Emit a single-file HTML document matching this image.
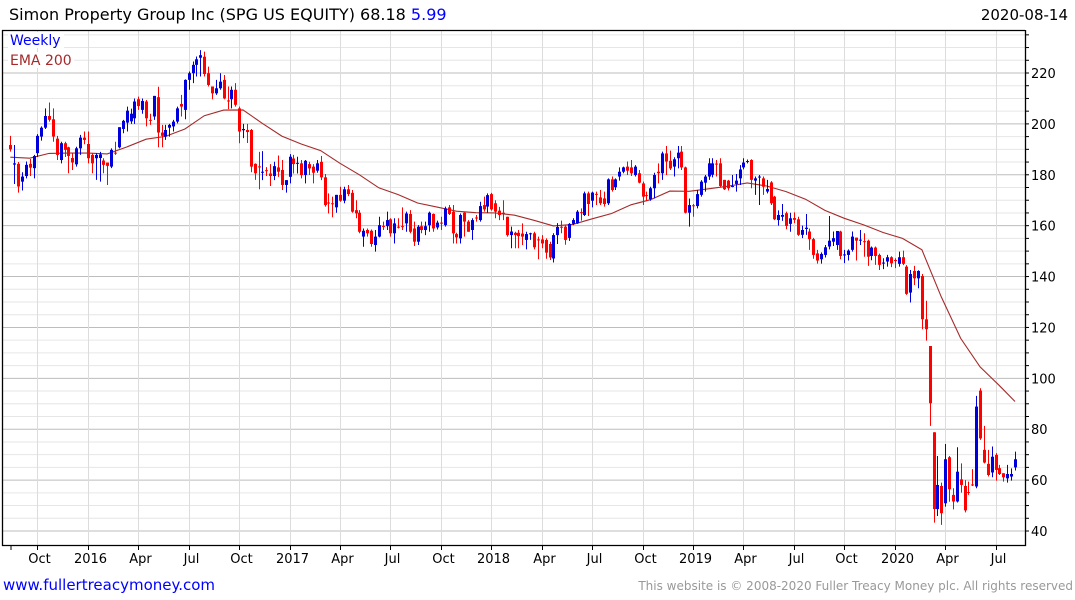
<!DOCTYPE html>
<html><head><meta charset="utf-8"><style>
body{margin:0;background:#fff;width:1075px;height:600px;overflow:hidden}
svg{display:block}
text{font-family:"DejaVu Sans","Liberation Sans",sans-serif}
</style></head><body>
<svg id="chart" width="1075" height="600" viewBox="0 0 1075 600" xmlns="http://www.w3.org/2000/svg">
<rect x="0" y="0" width="1075" height="600" fill="#fff"/>
<g id="grid"></g>
<g id="ema"></g>
<g id="candles"></g>
<g id="axes"></g>
<text x="9" y="20" font-size="16" fill="#000">Simon Property Group Inc (SPG US EQUITY) 68.18 <tspan fill="#0000ff">5.99</tspan></text>
<text x="1068" y="20" font-size="15" fill="#000" text-anchor="end">2020-08-14</text>
<rect x="8" y="32" width="56" height="16" fill="#fff"/>
<text x="10" y="45" font-size="14" fill="#0000ff">Weekly</text>
<rect x="8" y="52" width="66" height="16" fill="#fff"/>
<text x="10" y="65" font-size="14" fill="#a52a2a">EMA 200</text>
<text x="3" y="590" font-size="15" fill="#0000ff">www.fullertreacymoney.com</text>
<text x="1073" y="590" font-size="12" fill="#999" text-anchor="end">This website is © 2008-2020 Fuller Treacy Money plc. All rights reserved</text>
</svg>
<script>
const opens=[191.7,184,184.3,177.3,179.5,184.3,182.6,188.5,195,198.5,203.1,201.8,194.2,185.8,192.4,190.8,186.6,184.1,190.4,194.6,192.1,187.8,186.5,186.6,185.6,184.8,183.2,188.7,190.8,198,200.5,201,202.2,209.7,205.5,208.8,201.6,202.9,210.5,196.6,195,198.5,199,200.9,207.8,205.5,217.3,219.9,223.2,226,226.4,219.9,214.7,212,214,217.3,209.2,209.7,213.4,206.1,197.5,197.6,197.6,184.3,183.3,181,181.8,180.5,179.5,182.9,181.9,176,179.2,186.4,184.5,184.5,179.9,184.2,183.2,181.6,185.1,179,169.1,168.8,167.2,172.1,169.8,174.3,172.9,166.1,165.1,155.7,158.3,158,152.4,155.7,159.9,159.8,162.5,157,159.6,159.8,160.9,164.6,158.9,153.7,159.8,158.3,160.2,164.6,159.3,161.2,160.2,167.2,165.5,156.7,155,165.1,161.6,158.3,163.2,162.2,168.1,167.5,172.4,168.8,165.9,165.1,163.5,156.3,157.2,157.2,156.9,154.4,156.8,157,154.6,154.6,154.4,152.8,147.1,156.3,159.6,159.6,155.2,160.7,160.9,165.3,164.2,172.7,169.8,172.5,171.1,170.7,168.8,178.2,175.1,179.3,181.2,183.2,182.9,179.9,180.6,176.6,172,170.4,174.7,181.2,180.6,188.4,185.5,183.2,186.5,189.1,182.9,165.1,168,167.7,172.1,176.9,179.3,180,184.4,184.5,178,177.7,175.4,176.4,178.6,182.9,185,185.8,177.7,179,178.6,173.4,177,171.4,162.2,163.5,164.9,160.7,163,162.5,156.4,158.7,157.7,154.7,149.1,146.8,148.5,151.8,153.7,152.4,157.7,148.4,148.5,150.5,155.3,154.2,153.9,154.1,148.1,151.4,148.5,145.1,145.9,147.6,146.5,145,147.6,143.9,133.7,142.2,139.3,140.2,123.2,112.7,78.8,48.6,57.7,50.9,69,54.2,51.6,60.3,57.7,55.3,58.3,57.5,95.2,71.9,66.4,63,69.9,64.7,62.7,60.7,61.4,65];
const highs=[195.3,191.7,185,181,185.2,186.2,187.8,196,199,206.1,208.4,206.1,195.3,193,193,191,188.5,191,195.7,197,197,188.5,188.5,189,186.5,184.8,190.4,193,198.7,201.6,206.8,206,210,210.7,210,209.4,204,211,214.6,199.6,199.6,200,201.6,206.8,211.4,217.5,220.6,224.5,226.5,229,228.4,222.5,214.7,217.3,219.9,219.2,214.7,214.7,216,206.8,200,200,198,184.5,189,189.3,183,184.2,185.1,187.6,185.8,177.9,188.1,187.8,187.1,185.8,185.8,185.1,184.2,185.8,187.4,180.3,172.7,171.4,172.1,175.3,175.3,176,174,170,166.1,158.9,158.9,158.5,158.3,163.5,161.6,165.5,162.9,162.9,162.9,167.2,165.5,166.1,161.6,160.2,161.6,161.6,165.5,164.8,162,163.5,167.5,168.1,168.1,157.2,164.8,165.5,162.2,162.9,164.2,169.4,171.4,172.7,172.9,170,167.4,170,163.5,159.6,157.6,158.3,160.9,157.6,157.2,157.6,155.7,156.3,155,153.7,157,161,162,160.2,161,162.9,166.1,166.8,173.4,173.4,173.4,173.4,174,173.4,178.6,179.3,178.6,182.9,183.2,185.2,185.8,183.8,181.9,177.3,173.4,175.3,180.8,184.5,189.1,191.3,189.5,186.9,191.3,191.3,183.2,170.7,168.5,174,177.9,179.9,186.5,186.5,185.8,186.5,178,178,179.9,180.3,183.8,186.5,186,186.1,179.3,179.9,179.3,178,177.5,171.7,166,168.5,165.5,165.1,165.2,163.5,160,164.6,158.9,155.2,150.5,149.5,152.4,163.8,157.7,157.9,158,150.5,150.7,157.7,155.3,158.3,157,154.5,151.8,151.8,149,147.2,148.5,148,147.2,149.8,150.2,144.5,142.6,144.2,142.5,141,130.5,112.7,78.8,69.5,59,74.2,69.5,56.8,72.9,66.6,60,59.4,64.3,93.1,96.1,81.3,71.9,73.2,70.6,66,62.7,66,64.6,71.2];
const lows=[189.1,176.4,173,173.8,178.6,179.5,178.6,187,193.4,198,200.9,193,185.8,184.5,187,180.6,181.9,183.2,187.8,192,184.5,180.6,178,177.3,180.6,176,182.6,187.8,190.4,196.3,197,200,200,205.5,204,199,199.6,201.6,190.8,190.8,193.7,195,197,200.2,202.9,201.8,213.4,216,218.6,218.6,218.6,214.7,209.7,211.4,213.4,209.7,205.8,206.1,206.8,192.4,194.4,192.5,181,178,174.3,177.9,179.5,175.6,177.9,179.2,174,173,176.6,180.5,180.5,178.6,176.6,179.9,176.6,180.8,177.9,167.5,164.8,163.3,165.1,169.4,168.8,171.6,165.1,162.9,157,151.7,155.7,151.7,149.8,155.4,158.3,158.3,155.7,153,158.9,158.3,157.6,157,152,152.4,157,156.3,157.6,157.6,158.5,158.3,159.6,164.2,153,153,153,155.7,157.6,154.4,161.6,161.6,165.5,165.1,165.9,162.9,162.2,162.2,155.7,151.1,151.1,151.1,152.4,150.7,154.4,150.7,146.8,151.1,147,146.5,145.5,152.8,157,152.5,154,160.2,160.7,162,163.8,163.8,167.2,168.1,168.1,167.5,168.1,173.4,174,177.7,180.6,179.9,179.5,179.3,176.6,168.1,169.8,169.8,170.7,176.6,178,179.9,181.9,179.3,182.5,181.9,164.8,159.6,163.5,166.8,171.4,173.4,178,179,179.3,175.1,174,173.8,175.1,173.4,176,182.1,184.5,174.7,172.1,168.1,172.1,172.7,168.1,162.2,160,161.9,158.6,157.6,161,156,155.1,156.4,150.5,147,145.1,145.1,147.5,150.7,152,150.5,146.8,145.3,146.3,149.8,146.3,152.4,147.8,144.2,146.4,144.6,142.6,142.9,143.9,143.7,143.3,143.9,144.5,132.8,129.8,136.7,135.4,119.3,114.8,81.3,43.3,45.9,42.4,49.6,51.5,48.5,51.2,55.1,47.3,54.2,57.7,56.8,75.8,66.6,61.4,61.1,59.8,62,59.4,59,59.8,63.8];
const closes=[190,184.5,175.4,179.3,183.9,182.8,187.4,195.3,198.5,203.1,201.6,195,187.8,192.4,189.8,187.4,184.8,190.4,194.6,193.7,186.5,184.5,187.8,188,183.9,183.5,189.8,188.5,198.7,201.2,205.2,204,208.8,207,209,202.2,201.3,211,196.6,195.3,197.6,199.6,200.9,206.1,206.8,217.3,219.9,223.2,225.4,227,219.6,215.3,212,214,216.6,210,208.9,213.4,207.5,197,198,196.8,183.2,180.6,183,181.2,181.5,179.5,183.4,181.2,176,177.9,187.1,184.2,184.7,179.9,185.5,182.5,180.8,184.5,179,168.1,168.8,168.5,172.1,169.8,174.3,172.4,165.5,164.8,157.6,158,157,152.8,155.7,160.2,159.6,162.2,157,160.9,159.3,159.5,164.8,157.6,153.7,159.6,158.3,159.8,165.1,158.9,161.2,160.9,166.8,164.6,157,155.4,164.2,161.6,157.6,162.2,162.9,167.7,166.4,172,166.4,165.5,164.2,164.8,156.3,157.7,156.3,155.9,155.7,156.7,157,151.5,154.4,153,149.4,147.5,156.3,159.5,159.2,154.4,160.7,162.2,165.5,164.9,172.7,168.5,173,172.2,168.8,168.5,178.2,174,178.2,181.2,182.9,181.6,180.6,183.2,176.9,171.4,171.7,174.7,179.9,180.6,188.4,185.2,182.5,186.1,188.7,182.9,165.1,168.1,167.7,172.4,177.3,179.3,184.5,184.5,184,175.6,174.3,174.7,175.6,177.7,182.1,184.8,185.4,178,178.6,179.3,175.3,174.4,168.8,162.5,164.2,164.2,159.9,162.9,162.3,156.4,158.3,159.2,154.7,148.5,146.3,148.9,151.5,154.1,155.1,157.9,148.1,148.7,150.2,155.7,154.1,154.5,153.6,147.8,151.4,148.1,144.6,145.5,147.6,145.2,146.2,147.6,145,133.2,141,139.3,142.2,123.2,119.3,90.2,48.6,58.1,47,68.2,56.4,51.6,63.3,58.1,48.1,55,58,88.9,76.4,66.9,62,69.2,64,62.4,61.1,62.4,62.4,68.2];
// EMA 200 values sampled every 5th week (last value = final week)
const emaValues=[186.9,186.5,188.4,188.5,188.5,188.2,190.9,194,195.1,198,203.2,205.4,205.5,200.2,195.2,192.1,189.5,184.5,180,174.9,172.2,168.9,167.3,165.7,165.1,165,164.1,162.1,159.9,160.5,162.7,164.8,168.2,170.2,173.6,173.5,174.5,175.5,176.8,175.6,173.4,170.4,166,162.9,160.3,157.3,155,150.5,132,115.7,104.5,97.1,90.9];
const yTicks=[40,60,80,100,120,140,160,180,200,220];
const xTickLabels=["Oct","2016","Apr","Jul","Oct","2017","Apr","Jul","Oct","2018","Apr","Jul","Oct","2019","Apr","Jul","Oct","2020","Apr","Jul"];
const xTickWeeks=[7,20,33,46,59,72,85,98,111,124,137,150,163,176,189,202,215,228,241,254];

const NS="http://www.w3.org/2000/svg";
const L=2,R=1025,T=30,B=545;
const N=closes.length;
function y(v){return 531-(v-40)*458/180;}
function x(i){return 10.3+i*(1015-10.3)/(N-1);}
function mk(tag,attrs,parent){const e=document.createElementNS(NS,tag);for(const k in attrs)e.setAttribute(k,attrs[k]);parent.appendChild(e);return e;}
const grid=document.getElementById('grid'),axes=document.getElementById('axes'),cg=document.getElementById('candles'),eg=document.getElementById('ema');
for(let v=40;v<=235;v+=5){
  const major=(v%20===0);
  const ln=mk('line',{x1:L,x2:R,y1:y(v),y2:y(v),stroke:major?'#bdbdbd':'#e6e6e6','stroke-width':1},grid);
  
  
  const tk=mk('line',{x1:R,x2:R+4,y1:y(v),y2:y(v),stroke:'#000','stroke-width':1},axes);
  
  
}
yTicks.forEach(v=>{
  const t=mk('text',{x:1031,y:y(v)+5,'font-size':13,fill:'#000'},axes);
  t.textContent=v;
  
  
});
xTickWeeks.forEach((w,k)=>{
  const xx=Math.round(x(w))+0.5;
  const g=mk('line',{x1:xx,x2:xx,y1:T,y2:B+5,stroke:'#dcdcdc','stroke-width':1},grid);
  
  
  const tk=mk('line',{x1:xx,x2:xx,y1:B,y2:B+5,stroke:'#000','stroke-width':1},axes);
  
  
  const t=mk('text',{x:xx+2,y:563,'font-size':13,fill:'#000','text-anchor':'middle'},axes);
  t.textContent=xTickLabels[k];
  
  
});
const ft=mk('line',{x1:11,x2:11,y1:B,y2:B+5,stroke:'#000'},axes);


const fr=mk('path',{d:`M${L+0.5},${T} V${B+0.5} H${R+0.5} V${T} M${L},${T+0.5} H${R}`,stroke:'#000',fill:'none','stroke-width':1.3},axes);


let pts=[];
emaValues.forEach((v,k)=>{const i=Math.min(k*5,N-1);pts.push(x(i).toFixed(1)+','+y(v).toFixed(1));});
const pl=mk('polyline',{points:pts.join(' '),fill:'none',stroke:'#a52a2a','stroke-width':1.1},eg);


for(let i=0;i<N;i++){
  const up=closes[i]>=opens[i];
  const col=up?'#0000dd':'#ff0000';
  const cx=Math.round(x(i));
  const g=mk('g',{},cg);
  
  
  mk('line',{x1:cx+0.5,x2:cx+0.5,y1:y(highs[i]),y2:y(lows[i]),stroke:col,'stroke-width':1},g);
  const top=y(Math.max(opens[i],closes[i])),bot=y(Math.min(opens[i],closes[i]));
  mk('rect',{x:cx-1,y:top,width:3,height:Math.max(1,bot-top),fill:col},g);
}
</script>
</body></html>
